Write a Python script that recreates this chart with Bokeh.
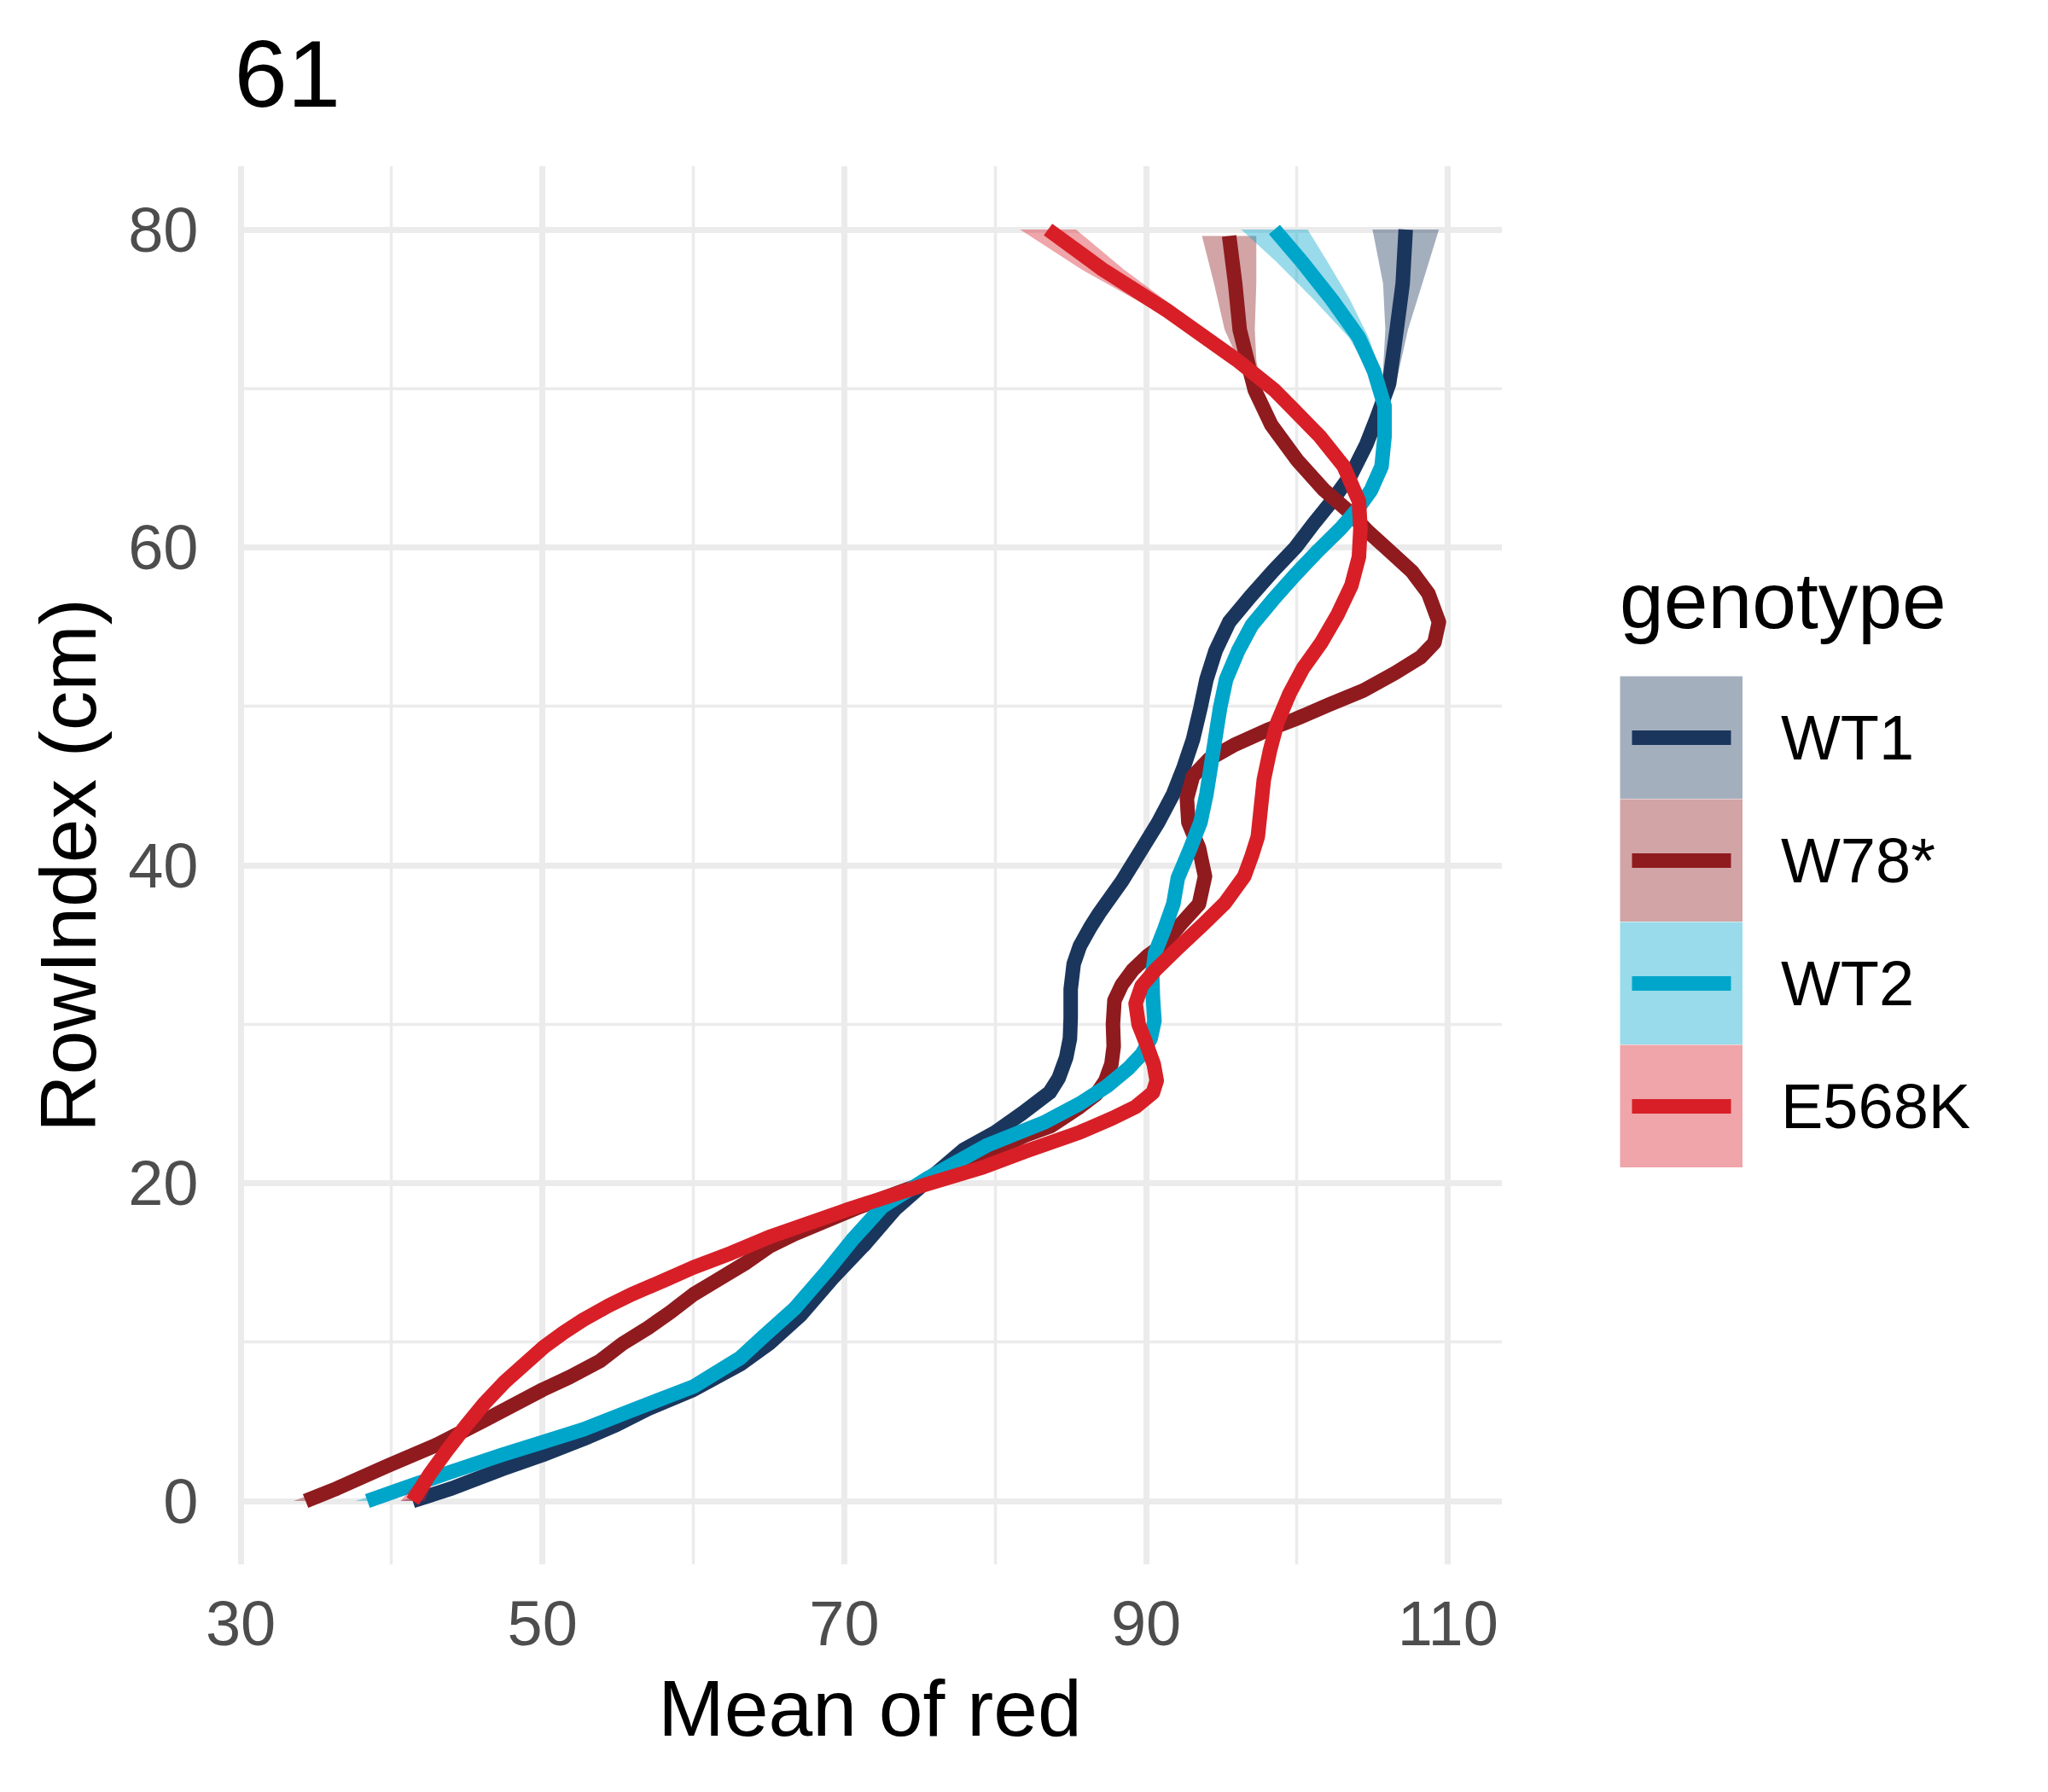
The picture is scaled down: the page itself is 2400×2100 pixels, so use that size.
from bokeh.plotting import figure
from bokeh.layouts import column, row
from bokeh.models import Range1d, FixedTicker, Legend, LegendItem, Label, ColumnDataSource
from bokeh.embed import file_html
from bokeh.resources import INLINE

# ---------------- data ----------------
chart_title = "61"
genotypes = ["WT1", "W78*", "WT2", "E568K"]
line_colors = ["#1B365D", "#8F1B1F", "#00A5CA", "#D81F27"]

wt1_y = [0, 0.8, 2.0, 2.9, 3.9, 4.8, 5.8, 7.0, 8.6, 9.9, 11.7, 14.0, 16.2, 18.4, 20.4,
         22.1, 23.2, 24.4, 25.7, 26.6, 27.9, 29.1, 30.4, 32.2, 33.8, 34.9, 36.1, 37.0, 39.0, 41.0,
         42.7, 44.5, 46.2, 47.9, 49.9, 51.7, 53.5, 55.3, 56.9, 58.5, 60.0, 61.5, 62.9, 64.6, 66.5,
         68.2, 70.3, 73.7, 76.6, 80.0]
wt1_x = [41.4, 44.0, 47.3, 50.0, 52.7, 54.9, 57.0, 60.0, 63.1, 65.0, 67.1, 69.2, 71.4, 73.4, 75.8,
         77.9, 80.0, 81.8, 83.6, 84.2, 84.7, 84.95, 85.0, 85.0, 85.2, 85.6, 86.3, 86.9, 88.4, 89.7,
         90.8, 91.8, 92.5, 93.1, 93.6, 94.0, 94.6, 95.5, 96.9, 98.4, 99.9, 101.1, 102.3, 103.6, 104.6,
         105.3, 106.1, 106.6, 107.0, 107.2]
wt1_se = [0.8, 0.7, 0.55, 0.45, 0.4] + [0.35] * 40 + [0.4, 0.45, 0.75, 1.3, 2.2]

w78_y = [0, 0.8, 2.2, 3.5, 5.1, 7.0, 7.8, 8.8, 9.9, 10.9, 11.9, 13.0, 13.8, 15.0, 16.0,
         16.8, 18.5, 20.0, 21.5, 23.0, 23.6, 24.8, 25.6, 26.45, 27.5, 28.6, 30.0, 31.5, 32.5, 33.4,
         34.3, 35.05, 36.3, 37.56, 39.3, 41.1, 42.7, 44.2, 45.6, 46.7, 47.6, 48.5, 49.2, 50.1, 51.0,
         52.1, 53.1, 54.0, 55.3, 57.1, 58.5, 59.8, 61.0, 62.2, 63.6, 65.5, 67.7, 69.9, 71.8, 73.7,
         76.6, 79.6]
w78_x = [34.3, 36.4, 39.7, 42.9, 46.2, 50.0, 51.8, 53.8, 55.3, 57.0, 58.5, 60.0, 61.4, 63.5, 65.0,
         66.7, 71.0, 75.3, 78.6, 82.0, 83.7, 85.6, 86.7, 87.3, 87.7, 87.85, 87.8, 87.9, 88.4, 89.1,
         90.1, 91.2, 92.3, 93.5, 93.9, 93.5, 92.8, 92.7, 93.1, 94.2, 95.9, 98.0, 99.9, 102.1, 104.4,
         106.5, 108.2, 109.1, 109.4, 108.7, 107.6, 106.1, 104.7, 103.5, 101.8, 100.0, 98.3, 97.2, 96.7, 96.2,
         95.9, 95.5]
w78_se = [0.8, 0.65, 0.45, 0.4] + [0.35] * 50 + [0.4, 0.4, 0.45, 0.45, 0.6, 1.0, 1.4, 1.8]

wt2_y = [0, 0.8, 1.85, 2.9, 3.7, 4.5, 5.7, 7.2, 9.0, 10.4, 12.1, 14.4, 16.4, 18.5, 20.3,
         22.4, 23.8, 25.0, 26.1, 27.2, 28.1, 29.1, 30.2, 31.65, 33.1, 34.5, 35.95, 37.56, 39.2, 41.0,
         42.7, 44.5, 46.3, 48.1, 49.9, 51.7, 53.5, 55.1, 56.7, 58.3, 59.8, 61.2, 62.4, 63.6, 65.1,
         67.0, 68.9, 71.1, 73.2, 75.6, 78.0, 80.0]
wt2_x = [38.4, 40.8, 44.0, 47.3, 50.0, 52.7, 55.9, 60.0, 63.1, 64.7, 66.7, 68.8, 70.5, 72.5, 75.5,
         79.5, 83.2, 85.6, 87.4, 88.8, 89.7, 90.3, 90.55, 90.45, 90.4, 90.6, 91.2, 91.8, 92.1, 92.9,
         93.6, 94.0, 94.3, 94.6, 94.9, 95.3, 96.1, 97.0, 98.4, 99.9, 101.4, 102.9, 104.0, 104.9, 105.6,
         105.8, 105.8, 105.1, 104.1, 102.3, 100.3, 98.5]
wt2_se = [0.8, 0.65, 0.5, 0.4] + [0.35] * 43 + [0.4, 0.65, 1.2, 1.7, 2.2]

e568k_y = [0, 1.65, 3.1, 4.7, 6.2, 7.5, 8.6, 9.7, 10.6, 11.4, 12.3, 13.0, 13.9, 14.7, 15.6,
           16.6, 18.3, 19.8, 21.0, 22.0, 23.2, 24.1, 24.8, 25.7, 26.45, 27.5, 28.8, 30.0, 31.3, 32.4,
           33.4, 34.7, 36.3, 37.6, 39.3, 40.6, 41.8, 43.6, 45.4, 47.2, 49.0, 50.8, 52.4, 54.0, 55.8,
           57.6, 59.4, 61.2, 62.9, 65.1, 67.0, 69.9, 71.8, 74.9, 77.5, 80.0]
e568k_x = [41.4, 42.5, 43.6, 44.9, 46.2, 47.5, 48.8, 50.1, 51.4, 52.7, 54.4, 55.9, 58.1, 60.0, 62.5,
           65.0, 70.1, 75.0, 79.2, 82.0, 85.6, 87.8, 89.3, 90.45, 90.7, 90.5, 90.0, 89.5, 89.3, 89.7,
           90.6, 92.0, 93.8, 95.2, 96.5, 97.0, 97.4, 97.6, 97.8, 98.2, 98.7, 99.5, 100.4, 101.6, 102.7,
           103.6, 104.1, 104.2, 104.1, 103.1, 101.5, 98.5, 96.0, 91.4, 87.1, 83.5]
e568k_se = [0.8, 0.45, 0.4] + [0.35] * 49 + [0.45, 0.8, 1.4, 1.85]

x_ticks = [30, 50, 70, 90, 110]
x_minor = [40, 60, 80, 100]
y_ticks = [0, 20, 40, 60, 80]
y_minor = [10, 30, 50, 70]

series = [(wt1_y, wt1_x, wt1_se), (w78_y, w78_x, w78_se), (wt2_y, wt2_x, wt2_se), (e568k_y, e568k_x, e568k_se)]

FONT = "Liberation Sans"
W, H = 2392, 2092
TOP = 194          # height of the title strip
MAIN_W = 1760      # width of the main plot (frame right edge)
LEG_W = W - MAIN_W


def bare(width, height):
    f = figure(width=width, height=height, title=None, x_axis_type=None, y_axis_type=None,
               x_range=Range1d(0, width), y_range=Range1d(0, height),
               output_backend="svg", toolbar_location=None,
               min_border_left=0, min_border_right=0, min_border_top=0, min_border_bottom=0)
    f.outline_line_color = None
    f.background_fill_color = "white"
    f.border_fill_color = "white"
    f.xgrid.visible = False
    f.ygrid.visible = False
    return f


# ---------------- title strip ----------------
tf = bare(W, TOP)
tf.add_layout(Label(x=274, y=TOP - 86, text=chart_title, text_font=FONT, text_font_size="112px",
                    text_baseline="middle", text_align="left", text_color="black"))

# ---------------- main plot ----------------
p = figure(width=MAIN_W, height=H - TOP, title=None, x_range=Range1d(29.8, 113.6), y_range=Range1d(-4, 84),
           output_backend="svg", toolbar_location=None,
           min_border_left=278, min_border_right=0, min_border_top=0, min_border_bottom=259)
p.outline_line_color = None
p.background_fill_color = "white"
p.border_fill_color = "white"

xt = FixedTicker(ticks=x_ticks, minor_ticks=x_minor)
yt = FixedTicker(ticks=y_ticks, minor_ticks=y_minor)
p.xaxis.ticker = xt
p.yaxis.ticker = yt
p.xgrid.ticker = xt
p.ygrid.ticker = yt
for g in (p.xgrid, p.ygrid):
    g.grid_line_color = "#ebebeb"
    g.grid_line_width = 7
    g.minor_grid_line_color = "#ebebeb"
    g.minor_grid_line_width = 3.5

for ax in (p.xaxis, p.yaxis):
    ax.axis_line_color = None
    ax.major_tick_line_color = None
    ax.minor_tick_line_color = None
    ax.major_tick_in = 0
    ax.major_tick_out = 0
    ax.minor_tick_in = 0
    ax.minor_tick_out = 0
    ax.major_label_text_font = FONT
    ax.major_label_text_font_size = "74px"
    ax.major_label_text_color = "#4d4d4d"
    ax.axis_label_text_font = FONT
    ax.axis_label_text_font_size = "93px"
    ax.axis_label_text_font_style = "normal"
    ax.axis_label_text_color = "black"

p.xaxis.axis_label = "Mean of red"
p.yaxis.axis_label = "RowIndex (cm)"
p.xaxis.major_label_standoff = 43
p.yaxis.major_label_standoff = 46
p.xaxis.axis_label_standoff = 19
p.yaxis.axis_label_standoff = 15

for col, (ys, xs, se) in zip(line_colors, series):
    src = ColumnDataSource(dict(y=ys, x=xs,
                                lo=[a - b for a, b in zip(xs, se)],
                                hi=[a + b for a, b in zip(xs, se)]))
    p.harea(x1="lo", x2="hi", y="y", source=src, fill_color=col, fill_alpha=0.4)
    p.line(x="x", y="y", source=src, line_color=col, line_width=17, line_join="round")

# ---------------- legend strip ----------------
lf = bare(LEG_W, H - TOP)
items = []
for name, col, (ys, xs, se) in zip(genotypes, line_colors, series):
    # one-point renderers: draw nothing on the canvas, only the legend keys
    key_band = lf.line(x=[xs[0]], y=[ys[0]], line_color=col, line_alpha=0.4, line_width=144)
    key_line = lf.line(x=[xs[0]], y=[ys[0]], line_color=col, line_width=17, line_dash="0 14 116 14")
    items.append(LegendItem(label=name, renderers=[key_band, key_line]))

legend = Legend(items=items, title="genotype", location=(138, 465), orientation="vertical",
                glyph_width=144, glyph_height=144, spacing=0, padding=0, margin=0,
                label_standoff=45, label_text_font=FONT, label_text_font_size="74px",
                label_text_color="black", label_height=144,
                title_text_font=FONT, title_text_font_size="93px", title_text_font_style="normal",
                title_text_color="black", title_standoff=34,
                border_line_color=None, background_fill_alpha=0)
lf.add_layout(legend)

layout = column(tf, row(p, lf, spacing=0), spacing=0)
open("out.html", "w").write(file_html(layout, INLINE))
